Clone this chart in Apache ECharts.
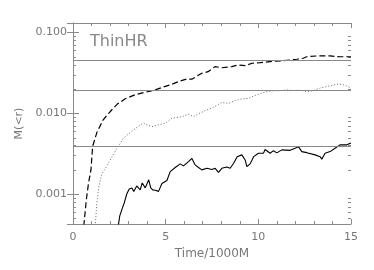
<!DOCTYPE html>
<html>
<head>
<meta charset="utf-8">
<script src="https://cdn.jsdelivr.net/npm/echarts@6/dist/echarts.min.js"></script>
<style>html,body{margin:0;padding:0;background:#fff}#c{width:374px;height:270px}</style>
</head>
<body>
<div id="c"></div>
<script>
// ---- data ----
const dashedT = [0.58,0.72,0.84,0.97,1.06,1.29,1.63,2.01,2.39,2.82,3.36,3.90,4.44,4.87,5.35,5.78,6.16,6.41,6.95,7.29,7.66,8.03,8.57,8.91,9.29,9.65,10.10,10.64,11.34,12.08,12.42,12.61,13.15,13.87,14.41,15.0];
const dashedM = [0.00040,0.00085,0.00138,0.0020,0.0039,0.0058,0.0083,0.0105,0.0130,0.0151,0.0170,0.0182,0.0195,0.0211,0.0229,0.0251,0.0266,0.0264,0.0313,0.0327,0.0378,0.0366,0.0378,0.0396,0.0388,0.0416,0.0423,0.0436,0.0448,0.0466,0.0480,0.0501,0.0512,0.0512,0.0501,0.0501];

const dottedT = [1.20,1.283,1.391,1.553,1.833,2.189,2.458,2.728,2.997,3.267,3.628,3.806,3.989,4.259,4.615,4.976,5.337,5.876,6.232,6.501,6.863,7.132,7.493,7.849,8.032,8.388,8.749,9.110,9.466,9.827,10.097,10.474,10.836,11.191,11.553,11.914,12.270,12.631,12.992,13.348,13.709,14.070,14.340,14.609,14.965];
const dottedM = [0.00040,0.000755,0.00122,0.00177,0.00223,0.00313,0.00394,0.00491,0.00555,0.00622,0.00717,0.00759,0.00717,0.00683,0.00717,0.00752,0.00867,0.00908,0.00972,0.00908,0.0101,0.01077,0.01164,0.01286,0.01361,0.01322,0.01439,0.01503,0.01534,0.0166,0.01757,0.0185,0.01905,0.01905,0.01943,0.01914,0.01926,0.0185,0.01914,0.02056,0.0215,0.0224,0.0231,0.0224,0.0208];

const solidT = [2.44,2.523,2.631,2.765,2.900,3.035,3.181,3.278,3.439,3.536,3.628,3.736,3.817,3.898,4.005,4.086,4.194,4.302,4.437,4.615,4.798,5.067,5.245,5.515,5.784,5.962,6.232,6.415,6.593,6.771,6.954,7.224,7.493,7.671,7.849,8.032,8.302,8.480,8.668,8.857,9.111,9.288,9.380,9.558,9.747,10.005,10.275,10.367,10.636,10.814,10.997,11.267,11.714,11.984,12.162,12.345,12.615,13.062,13.332,13.423,13.601,13.871,14.140,14.410,14.771,15.0];
const solidM = [0.00040,0.000536,0.000635,0.000776,0.00100,0.001156,0.00119,0.001077,0.00126,0.0013,0.001125,0.00137,0.00143,0.00119,0.001125,0.0015,0.00119,0.001125,0.00111,0.001077,0.00135,0.00147,0.00189,0.00213,0.00236,0.00223,0.00252,0.00276,0.00229,0.00213,0.00199,0.00208,0.00201,0.00208,0.00185,0.00208,0.00216,0.00208,0.0024,0.0029,0.00305,0.00264,0.00218,0.00236,0.0029,0.0032,0.0032,0.00356,0.0032,0.00344,0.00323,0.00352,0.00347,0.00369,0.00386,0.00335,0.00325,0.00305,0.0029,0.0027,0.0032,0.00335,0.00369,0.00406,0.00406,0.00428];

const refLevels = [0.045, 0.0193, 0.00394];
const yMinorTicks = [0.0005,0.0006,0.0007,0.0008,0.0009,0.002,0.003,0.004,0.005,0.006,0.007,0.008,0.009,0.02,0.03,0.04,0.05,0.06,0.07,0.08,0.09];
const xMin = 0, xMax = 15, yMin = 0.000425, yMax = 0.1311;
const titleText = 'ThinHR';
const xName = 'Time/1000M';
const yName = 'M(<r)';

// ---- chart ----
const axisGray = '#8a8a8a';
const textGray = '#777';
const font = 'DejaVu Sans';
const zip = (a, b) => a.map((v, i) => [v, b[i]]);

const chart = echarts.init(document.getElementById('c'), null, {renderer: 'canvas'});
chart.setOption({
  animation: false,
  backgroundColor: '#fff',
  title: {text: titleText, left: 90, top: 34, padding: 0,
    textStyle: {fontFamily: font, fontSize: 16, fontWeight: 'normal', color: '#888'}},
  grid: {left: 73, right: 23, top: 23, bottom: 46},
  xAxis: [{
    type: 'value', min: xMin, max: xMax, interval: 5, position: 'bottom',
    name: xName, nameLocation: 'middle', nameGap: 24,
    nameTextStyle: {fontFamily: font, fontSize: 12, color: textGray},
    axisLine: {show: true, lineStyle: {color: axisGray, width: 1}},
    axisTick: {show: true, inside: true, length: 5, lineStyle: {color: axisGray}},
    minorTick: {show: true, splitNumber: 5, length: 3, lineStyle: {color: axisGray}},
    axisLabel: {fontFamily: font, fontSize: 11, color: textGray, margin: 8},
    splitLine: {show: false}
  }, {
    type: 'value', min: xMin, max: xMax, interval: 5, position: 'top',
    axisLine: {show: true, lineStyle: {color: axisGray, width: 1}},
    axisTick: {show: true, inside: true, length: 5, lineStyle: {color: axisGray}},
    minorTick: {show: true, splitNumber: 5, length: 3, lineStyle: {color: axisGray}},
    axisLabel: {show: false}, splitLine: {show: false}
  }],
  yAxis: [{
    type: 'log', logBase: 10, min: yMin, max: yMax, position: 'left',
    name: yName, nameLocation: 'middle', nameGap: 47,
    nameTextStyle: {fontFamily: font, fontSize: 11, color: textGray},
    axisLine: {show: true, lineStyle: {color: axisGray, width: 1}},
    axisTick: {show: true, inside: true, length: 6, lineStyle: {color: axisGray}},
    axisLabel: {fontFamily: font, fontSize: 11, color: textGray, margin: 6,
      showMinLabel: false, showMaxLabel: false,
      formatter: v => Number(v).toFixed(3)},
    splitLine: {show: false}
  }, {
    type: 'log', logBase: 10, min: yMin, max: yMax, position: 'right',
    axisLine: {show: true, lineStyle: {color: axisGray, width: 1}},
    axisTick: {show: true, inside: true, length: 6, lineStyle: {color: axisGray}},
    axisLabel: {show: false}, splitLine: {show: false}
  }],
  series: [
    {
      type: 'line', data: zip(dashedT, dashedM), showSymbol: false, symbol: 'none',
      lineStyle: {color: '#000', width: 1.2, type: [6, 3]}, clip: true,
      markLine: {
        silent: true, symbol: 'none', label: {show: false}, precision: 8,
        lineStyle: {color: '#888', width: 1, type: 'solid'},
        data: refLevels.map(v => ({yAxis: v}))
      }
    },
    {
      type: 'line', data: zip(dottedT, dottedM), showSymbol: false, symbol: 'none',
      lineStyle: {color: '#666', width: 1, type: [1, 2]}, clip: true
    },
    {
      type: 'line', data: zip(solidT, solidM), showSymbol: false, symbol: 'none',
      lineStyle: {color: '#000', width: 1.1}, clip: true
    },
    {
      type: 'custom', silent: true, clip: false,
      data: yMinorTicks.map(v => [xMin, v]),
      renderItem: (params, api) => {
        const v = api.value(1);
        const pl = api.coord([xMin, v]);
        const pr = api.coord([xMax, v]);
        const st = {stroke: axisGray, lineWidth: 1};
        return {type: 'group', children: [
          {type: 'line', shape: {x1: pl[0], y1: Math.round(pl[1]) + 0.5, x2: pl[0] + 3, y2: Math.round(pl[1]) + 0.5}, style: st},
          {type: 'line', shape: {x1: pr[0], y1: Math.round(pr[1]) + 0.5, x2: pr[0] - 3, y2: Math.round(pr[1]) + 0.5}, style: st}
        ]};
      }
    }
  ]
});
</script>
</body>
</html>
